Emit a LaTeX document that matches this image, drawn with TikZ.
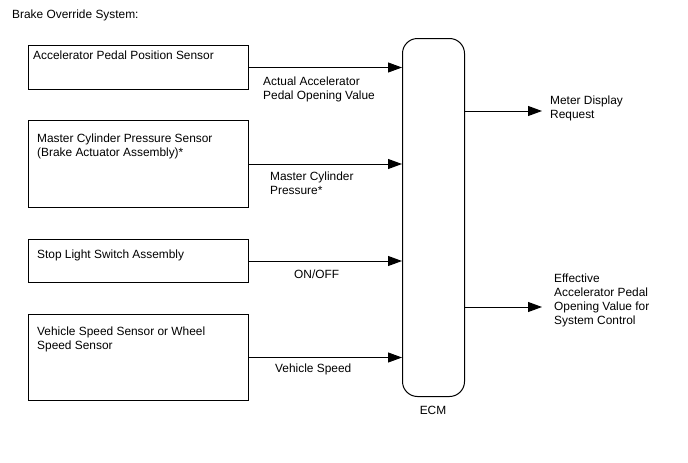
\documentclass[tikz,border=0pt]{standalone}
\usepackage{fontspec}
\setmainfont{Liberation Sans}
\usetikzlibrary{arrows.meta, positioning, calc}
\tikzset{
  bosbox/.style={rectangle, draw, line width=1pt, minimum width=220pt,
                 anchor=north west, inner sep=0pt},
  ecmbox/.style={rectangle, rounded corners=15pt, draw, line width=1pt,
                 minimum width=62pt, minimum height=358pt, anchor=north west, inner sep=0pt},
  bostext/.style={font=\fontsize{11.9}{13.7}\selectfont, align=left,
                  anchor=base west, inner sep=0pt},
  bosflow/.style={-{Triangle[length=14pt, width=10pt]}, line width=1pt},
}

\begin{document}
\begin{tikzpicture}[x=1pt, y=-1pt]
  \useasboundingbox (0,0) rectangle (688,463);
  \node[bostext] (title) at (12,18) {Brake Override System:};
  % sensors (multi-line texts sit on the baseline of their last line)
  \node[bosbox, minimum height=44pt] (apps) at (28,45) {};
  \node[bosbox, minimum height=87pt] (mcps) at (28,120) {};
  \node[bosbox, minimum height=43pt] (sls) at (28,239) {};
  \node[bosbox, minimum height=86pt] (vss) at (28,314) {};
  \node[bostext] (appst) at (33,59) {Accelerator Pedal Position Sensor};
  \node[bostext] (mcpst) at (37,156) {Master Cylinder Pressure Sensor\\(Brake Actuator Assembly)*};
  \node[bostext] (slst) at (37,258) {Stop Light Switch Assembly};
  \node[bostext] (vsst) at (37,349) {Vehicle Speed Sensor or Wheel\\Speed Sensor};
  % ECM
  \node[ecmbox] (ecm) at (402,38) {};
  \node[bostext, anchor=base] (ecmt) at (433,414) {ECM};
  % inputs
  \draw[bosflow] (apps.east) -- (apps.east -| ecm.west);
  \draw[bosflow] (mcps.east) -- (mcps.east -| ecm.west);
  \draw[bosflow] (sls.east) -- (sls.east -| ecm.west);
  \draw[bosflow] (vss.east) -- (vss.east -| ecm.west);
  \node[bostext] (appsl) at (263,99) {Actual Accelerator\\Pedal Opening Value};
  \node[bostext] (mcpsl) at (270,194) {Master Cylinder\\Pressure*};
  \node[bostext] (slsl) at (294,278) {ON/OFF};
  \node[bostext] (vssl) at (275,372) {Vehicle Speed};
  % outputs
  \coordinate (mdr) at (542,111);
  \coordinate (eapv) at (542,307);
  \draw[bosflow] (ecm.east |- mdr) -- (mdr);
  \draw[bosflow] (ecm.east |- eapv) -- (eapv);
  \node[bostext] (mdrt) at (550,118) {Meter Display\\Request};
  \node[bostext] (eapvt) at (554,324) {Effective\\Accelerator Pedal\\Opening Value for\\System Control};
\end{tikzpicture}
\end{document}
